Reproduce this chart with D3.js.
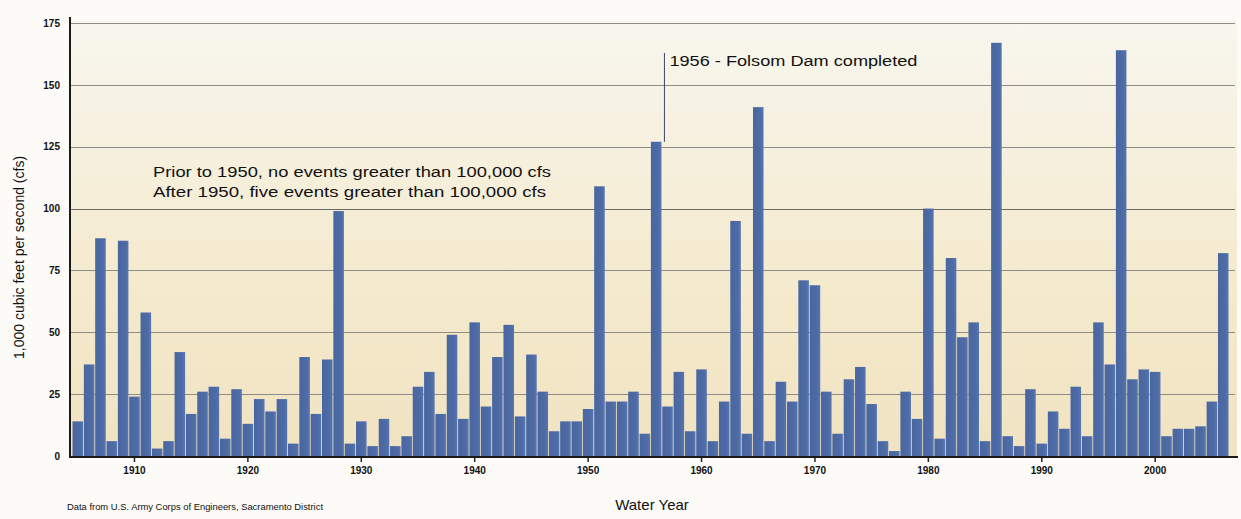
<!DOCTYPE html>
<html>
<head>
<meta charset="utf-8">
<script src="https://cdn.jsdelivr.net/npm/d3@7"></script>
<style>
  html, body { margin: 0; padding: 0; background: #fcfbf7; }
  svg { display: block; }
  text { font-family: "Liberation Sans", Arial, sans-serif; fill: #111; }
</style>
</head>
<body>
<svg id="chart" width="1241" height="519"></svg>
<script>
// Water years (categories)
const years = [1905,1906,1907,1908,1909,1910,1911,1912,1913,1914,1915,1916,1917,1918,1919,
  1920,1921,1922,1923,1924,1925,1926,1927,1928,1929,1930,1931,1932,1933,1934,1935,1936,1937,
  1938,1939,1940,1941,1942,1943,1944,1945,1946,1947,1948,1949,1950,1951,1952,1953,1954,1955,
  1956,1957,1958,1959,1960,1961,1962,1963,1964,1965,1966,1967,1968,1969,1970,1971,1972,1973,
  1974,1975,1976,1977,1978,1979,1980,1981,1982,1983,1984,1985,1986,1987,1988,1989,1990,1991,
  1992,1993,1994,1995,1996,1997,1998,1999,2000,2001,2002,2003,2004,2005,2006];

// Annual peak flow, 1,000 cfs
const peakFlow = [14,37,88,6,87,24,58,3,6,42,17,26,28,7,27,
  13,23,18,23,5,40,17,39,99,5,14,4,15,4,8,28,34,17,
  49,15,54,20,40,53,16,41,26,10,14,14,19,109,22,22,26,9,
  127,20,34,10,35,6,22,95,9,141,6,30,22,71,69,26,9,31,
  36,21,6,2,26,15,100,7,80,48,54,6,167,8,4,27,5,18,
  11,28,8,54,37,164,31,35,34,8,11,11,12,22,82];

const yTicks = [0,25,50,75,100,125,150,175];
const xTickYears = [1910,1920,1930,1940,1950,1960,1970,1980,1990,2000];

const yTitle = "1,000 cubic feet per second (cfs)";
const xTitle = "Water Year";
const sourceNote = "Data from U.S. Army Corps of Engineers, Sacramento District";
const noteLines = ["Prior to 1950, no events greater than 100,000 cfs",
                   "After 1950, five events greater than 100,000 cfs"];
const folsomYear = 1956;
const folsomLabel = "1956 - Folsom Dam completed";

const data = years.map((y, i) => ({year: y, value: peakFlow[i]}));

const svg = d3.select("#chart");
const plot = {left: 70, right: 1237, top: 20, bottom: 457};

const x = d3.scaleBand().domain(years).range([72.5, 1228.5]).paddingInner(0.07).paddingOuter(0);
const y = d3.scaleLinear().domain([0, 175]).range([456, 23]);

// background gradient
const defs = svg.append("defs");
const g1 = defs.append("linearGradient").attr("id", "bg").attr("x1", 0).attr("y1", 0).attr("x2", 0).attr("y2", 1);
g1.append("stop").attr("offset", "0%").attr("stop-color", "#f8f6ee");
g1.append("stop").attr("offset", "30%").attr("stop-color", "#f6f0de");
g1.append("stop").attr("offset", "65%").attr("stop-color", "#f4e9cb");
g1.append("stop").attr("offset", "100%").attr("stop-color", "#f0e3c2");

const bg2 = defs.append("linearGradient").attr("id", "bar").attr("x1", 0).attr("y1", 0).attr("x2", 1).attr("y2", 0);
bg2.append("stop").attr("offset", "0%").attr("stop-color", "#4a66a0");
bg2.append("stop").attr("offset", "70%").attr("stop-color", "#4d6ba6");
bg2.append("stop").attr("offset", "100%").attr("stop-color", "#5876ae");

svg.append("rect")
  .attr("x", plot.left).attr("y", plot.top)
  .attr("width", plot.right - plot.left).attr("height", plot.bottom - plot.top)
  .attr("fill", "url(#bg)");

// gridlines
svg.append("g").selectAll("line")
  .data(yTicks.filter(d => d > 0))
  .join("line")
  .attr("x1", plot.left).attr("x2", plot.right - 2)
  .attr("y1", d => Math.round(y(d)) + 0.5).attr("y2", d => Math.round(y(d)) + 0.5)
  .attr("stroke", d => d === 100 ? "#6a6a66" : "#8e8c86")
  .attr("stroke-width", 1.2);

// bars
svg.append("g").selectAll("rect")
  .data(data)
  .join("rect")
  .attr("x", d => x(d.year))
  .attr("y", d => y(d.value))
  .attr("width", x.bandwidth())
  .attr("height", d => y(0) - y(d.value))
  .attr("fill", "url(#bar)");

// axes
const yAxis = d3.axisLeft(y).tickValues(yTicks).tickSize(0).tickPadding(10);
const ya = svg.append("g").attr("transform", `translate(${plot.left},0)`).call(yAxis);
ya.select(".domain").remove();
ya.selectAll("text").attr("font-size", 10).attr("font-weight", "bold")
  .attr("font-family", "'Liberation Sans', Arial, sans-serif").attr("fill", "#111");

const xAxis = d3.axisBottom(x).tickValues(xTickYears).tickSize(5).tickPadding(5);
const xa = svg.append("g").attr("transform", `translate(0,${plot.bottom})`).call(xAxis);
xa.select(".domain").remove();
xa.selectAll("line").attr("stroke", "#222").attr("stroke-width", 1.5);
xa.selectAll("text").attr("font-size", 10).attr("font-weight", "bold")
  .attr("font-family", "'Liberation Sans', Arial, sans-serif").attr("fill", "#111");

// axis lines
svg.append("line").attr("x1", plot.left).attr("x2", plot.left)
  .attr("y1", 17).attr("y2", plot.bottom + 1)
  .attr("stroke", "#1a1a1a").attr("stroke-width", 2);
svg.append("line").attr("x1", plot.left - 1).attr("x2", plot.right + 1)
  .attr("y1", plot.bottom).attr("y2", plot.bottom)
  .attr("stroke", "#1a1a1a").attr("stroke-width", 2);

// titles
svg.append("text")
  .attr("transform", `translate(24,${(y(0) + y(175)) / 2 + 18}) rotate(-90)`)
  .attr("text-anchor", "middle").attr("font-size", 14)
  .text(yTitle);

svg.append("text")
  .attr("x", 652).attr("y", 510).attr("text-anchor", "middle").attr("font-size", 15)
  .text(xTitle);

svg.append("text")
  .attr("x", 67).attr("y", 510).attr("font-size", 9)
  .attr("textLength", 256).attr("lengthAdjust", "spacingAndGlyphs")
  .text(sourceNote);

// annotation: prior/after 1950
svg.append("g").selectAll("text")
  .data(noteLines)
  .join("text")
  .attr("x", 153)
  .attr("y", (d, i) => 177 + i * 20)
  .attr("font-size", 14)
  .attr("textLength", (d, i) => i === 0 ? 398 : 393)
  .attr("lengthAdjust", "spacingAndGlyphs")
  .text(d => d);

// Folsom Dam annotation
const fx = x(folsomYear) + x.bandwidth() + 3;
const fVal = peakFlow[years.indexOf(folsomYear)];
svg.append("line")
  .attr("x1", fx).attr("x2", fx)
  .attr("y1", 53).attr("y2", y(fVal))
  .attr("stroke", "#3c4a66").attr("stroke-width", 1);
svg.append("text")
  .attr("x", fx + 5).attr("y", 66).attr("font-size", 14)
  .attr("textLength", 248).attr("lengthAdjust", "spacingAndGlyphs")
  .text(folsomLabel);
</script>
</body>
</html>
